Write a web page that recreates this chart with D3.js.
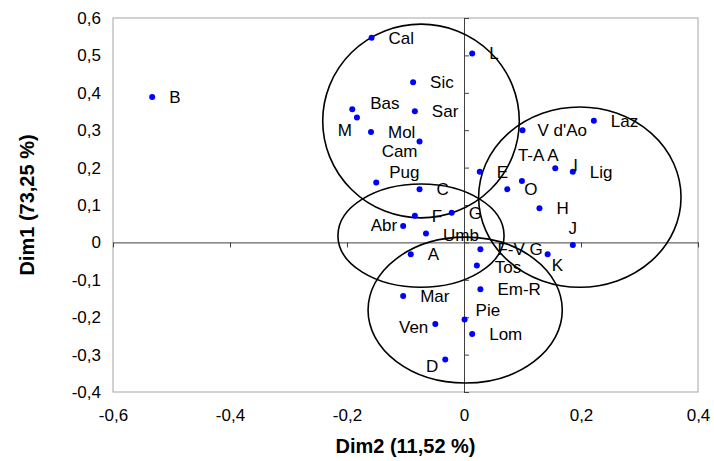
<!DOCTYPE html>
<html>
<head>
<meta charset="utf-8">
<script src="https://cdn.jsdelivr.net/npm/d3@7"></script>
<style>
  body { margin: 0; background: #fff; }
  text { font-family: "Liberation Sans", Arial, sans-serif; }
</style>
</head>
<body>
<div id="chart"></div>
<script>
// points of the factor map: Dim2 on x, Dim1 on y
const names = ["B", "Cal", "L", "Sic", "Bas", "M", "Sar", "Mol", "Cam", "Pug", "C", "E",
  "V d'Ao", "Laz", "T-A A", "I", "Lig", "O", "H", "F", "G", "Abr", "Umb", "J", "A",
  "F-V G", "K", "Tos", "Em-R", "Mar", "Pie", "Ven", "Lom", "D"];
const dim2 = [-0.533, -0.158, 0.014, -0.087, -0.191, -0.183, -0.084, -0.159, -0.076, -0.150, -0.076, 0.027,
  0.100, 0.222, 0.099, 0.156, 0.186, 0.074, 0.129, -0.084, -0.021, -0.104, -0.065, 0.186, -0.091,
  0.028, 0.143, 0.022, 0.028, -0.104, 0.001, -0.049, 0.014, -0.032];
const dim1 = [0.389, 0.547, 0.505, 0.428, 0.356, 0.334, 0.351, 0.295, 0.270, 0.160, 0.142, 0.189,
  0.300, 0.325, 0.164, 0.198, 0.189, 0.142, 0.091, 0.071, 0.079, 0.044, 0.024, -0.007, -0.032,
  -0.018, -0.032, -0.062, -0.125, -0.143, -0.206, -0.218, -0.245, -0.313];

// group ellipses (centre and radii in data units)
const groupCx = [-0.0735, -0.0735, 0.198, 0.002];
const groupCy = [0.3246, 0.018, 0.121, -0.181];
const groupRx = [0.168, 0.142, 0.173, 0.166];
const groupRy = [0.259, 0.138, 0.241, 0.195];

const xTicks = [-0.6, -0.4, -0.2, 0, 0.2, 0.4];
const yTicks = [-0.4, -0.3, -0.2, -0.1, 0, 0.1, 0.2, 0.3, 0.4, 0.5, 0.6];
const xTitle = "Dim2 (11,52 %)";
const yTitle = "Dim1 (73,25 %)";

// manual label placement (pixels from the dot), default is right of the dot
const nudge = {
  "Bas": [18, -6], "M": [-5, 13, "end"], "Cam": [-2, 10, "end"], "Pug": [13, -11],
  "T-A A": [-4, -26], "I": [18, -3], "Abr": [-6, -1, "end"], "J": [0, -17, "middle"],
  "K": [4, 11], "Pie": [11, -9], "Ven": [-7, 3, "end"], "D": [-7, 7, "end"],
  "V d'Ao": [15, 0], "Umb": [17, 2], "Tos": [18, 1.5], "F-V G": [17, 0]
};

const width = 714, height = 461;
const mLeft = 113, mRight = 698, mTop = 18, mBottom = 392;

const svg = d3.select("#chart").append("svg")
  .attr("width", width)
  .attr("height", height);

svg.append("rect").attr("width", width).attr("height", height).attr("fill", "#fff");

const x = d3.scaleLinear().domain([-0.6, 0.4]).range([mLeft, mRight]);
const y = d3.scaleLinear().domain([-0.4, 0.6]).range([mBottom, mTop]);

const loc = d3.formatLocale({decimal: ",", thousands: ".", grouping: [3], currency: ["", ""], minus: "-"});
const f1 = loc.format(".1f");
const fmt = d => Math.abs(d) < 1e-9 ? "0" : f1(d);

// plot frame
svg.append("rect")
  .attr("x", mLeft).attr("y", mTop)
  .attr("width", mRight - mLeft).attr("height", mBottom - mTop)
  .attr("fill", "none").attr("stroke", "#a6a6a6").attr("stroke-width", 1);

// tick labels on the outside
const yLab = svg.append("g")
  .attr("transform", `translate(${mLeft},0)`)
  .call(d3.axisLeft(y).tickValues(yTicks).tickSize(0).tickPadding(12).tickFormat(fmt));
yLab.select(".domain").remove();
const xLab = svg.append("g")
  .attr("transform", `translate(0,${mBottom})`)
  .call(d3.axisBottom(x).tickValues(xTicks).tickSize(0).tickPadding(17).tickFormat(fmt));
xLab.select(".domain").remove();
svg.selectAll(".tick text").attr("font-size", 17).attr("fill", "#000")
  .attr("font-family", "'Liberation Sans', Arial, sans-serif");

// zero axes with cross ticks
function crossAxis(g, a, b) {
  g.call(a); g.call(b);
  g.selectAll("text").remove();
  g.selectAll("path, line").attr("stroke", "#404040");
}
svg.append("g").attr("transform", `translate(${x(0)},0)`)
  .call(g => crossAxis(g,
    d3.axisLeft(y).tickValues(yTicks).tickSize(5).tickSizeOuter(0),
    d3.axisRight(y).tickValues(yTicks).tickSize(5).tickSizeOuter(0)));
svg.append("g").attr("transform", `translate(0,${y(0)})`)
  .call(g => crossAxis(g,
    d3.axisTop(x).tickValues(xTicks).tickSize(5).tickSizeOuter(0),
    d3.axisBottom(x).tickValues(xTicks).tickSize(5).tickSizeOuter(0)));

// ellipses
svg.append("g").selectAll("ellipse")
  .data(groupCx.map((c, i) => i))
  .join("ellipse")
  .attr("cx", i => x(groupCx[i]))
  .attr("cy", i => y(groupCy[i]))
  .attr("rx", i => x(groupRx[i]) - x(0))
  .attr("ry", i => y(0) - y(groupRy[i]))
  .attr("fill", "none")
  .attr("stroke", "#000")
  .attr("stroke-width", 1.6);

// points
const pts = names.map((n, i) => ({name: n, x: dim2[i], y: dim1[i]}));
svg.append("g").selectAll("circle")
  .data(pts)
  .join("circle")
  .attr("cx", d => x(d.x))
  .attr("cy", d => y(d.y))
  .attr("r", 3)
  .attr("fill", "#0000ff");

svg.append("g").selectAll("text")
  .data(pts)
  .join("text")
  .attr("x", d => x(d.x) + (nudge[d.name] ? nudge[d.name][0] : 17))
  .attr("y", d => y(d.y) + (nudge[d.name] ? nudge[d.name][1] : 0))
  .attr("dy", "0.35em")
  .attr("text-anchor", d => nudge[d.name] && nudge[d.name][2] ? nudge[d.name][2] : "start")
  .attr("font-size", 17)
  .attr("fill", "#000")
  .text(d => d.name);

// axis titles
svg.append("text")
  .attr("x", (mLeft + mRight) / 2).attr("y", 453)
  .attr("text-anchor", "middle")
  .attr("font-size", 20).attr("font-weight", "bold")
  .text(xTitle);
svg.append("text")
  .attr("transform", `translate(34,${(mTop + mBottom) / 2}) rotate(-90)`)
  .attr("text-anchor", "middle")
  .attr("font-size", 20).attr("font-weight", "bold")
  .text(yTitle);
</script>
</body>
</html>
